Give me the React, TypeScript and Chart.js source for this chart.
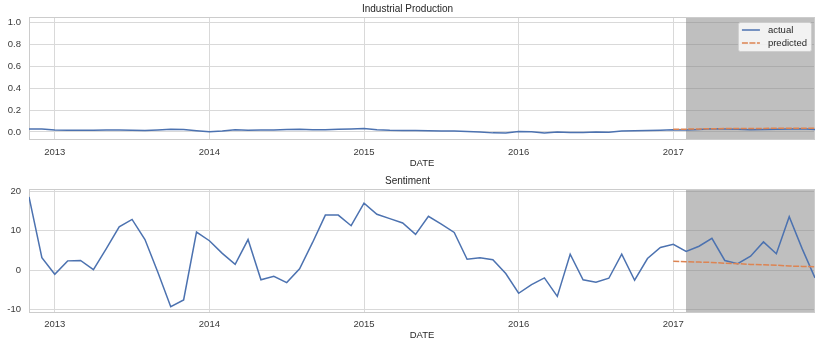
import React, { useEffect, useRef } from "react";
import { Chart, registerables } from "chart.js";

Chart.register(...registerables);

// ---------- data ----------
const DATES = [
  "2012-11", "2012-12",
  "2013-01", "2013-02", "2013-03", "2013-04", "2013-05", "2013-06",
  "2013-07", "2013-08", "2013-09", "2013-10", "2013-11", "2013-12",
  "2014-01", "2014-02", "2014-03", "2014-04", "2014-05", "2014-06",
  "2014-07", "2014-08", "2014-09", "2014-10", "2014-11", "2014-12",
  "2015-01", "2015-02", "2015-03", "2015-04", "2015-05", "2015-06",
  "2015-07", "2015-08", "2015-09", "2015-10", "2015-11", "2015-12",
  "2016-01", "2016-02", "2016-03", "2016-04", "2016-05", "2016-06",
  "2016-07", "2016-08", "2016-09", "2016-10", "2016-11", "2016-12",
  "2017-01", "2017-02", "2017-03", "2017-04", "2017-05", "2017-06",
  "2017-07", "2017-08", "2017-09", "2017-10", "2017-11", "2017-12",
];

const IP_ACTUAL = [
  0.027, 0.027,
  0.018, 0.017, 0.016, 0.016, 0.019, 0.018, 0.016, 0.013, 0.019, 0.025, 0.022, 0.012,
  0.003, 0.010, 0.020, 0.017, 0.018, 0.019, 0.023, 0.024, 0.021, 0.021, 0.026, 0.028,
  0.032, 0.020, 0.015, 0.013, 0.013, 0.012, 0.008, 0.010, 0.005, 0.000, -0.008, -0.009,
  0.004, 0.003, -0.010, 0.000, -0.004, -0.005, 0.000, -0.002, 0.008, 0.012, 0.013, 0.016,
  0.020, 0.019, 0.022, 0.030, 0.027, 0.026, 0.021, 0.023, 0.024, 0.027, 0.030, 0.023,
];

const SENT_ACTUAL = [
  18.6, 3.2,
  -1.0, 2.4, 2.5, 0.2, 5.5, 11.0, 12.9, 7.8, -0.5, -9.2, -7.5, 9.7,
  7.5, 4.3, 1.5, 7.8, -2.4, -1.5, -3.1, 0.4, 7.0, 14.0, 14.0, 11.3,
  17.0, 14.2, 13.1, 12.0, 9.1, 13.7, 11.7, 9.6, 2.8, 3.2, 2.7, -0.8,
  -5.8, -3.6, -1.9, -6.6, 4.1, -2.4, -3.0, -2.0, 4.1, -2.5, 3.0, 5.8,
  6.6, 4.8, 6.1, 8.1, 2.5, 1.7, 3.6, 7.2, 4.2, 13.6, 5.5, -1.9,
];

const PRED_DATES = [
  "2017-01", "2017-02", "2017-03", "2017-04", "2017-05", "2017-06",
  "2017-07", "2017-08", "2017-09", "2017-10", "2017-11", "2017-12",
];
const IP_PRED = [0.024, 0.026, 0.028, 0.030, 0.031, 0.032, 0.033, 0.033, 0.034, 0.034, 0.035, 0.035];
const SENT_PRED = [2.3, 2.2, 2.1, 2.0, 1.8, 1.7, 1.5, 1.4, 1.3, 1.1, 1.0, 0.9];

const YEAR_TICKS = ["2013", "2014", "2015", "2016", "2017"];
const IP_Y_TICKS = [0.0, 0.2, 0.4, 0.6, 0.8, 1.0];
const SENT_Y_TICKS = [-10, 0, 10, 20];

const X_START = "2012-11";
const X_END = "2017-12";
const SHADE_START = "2017-02";

const TITLES = ["Industrial Production", "Sentiment"];
const SERIES_LABELS = ["actual", "predicted"];
const X_TITLE = "DATE";

// ---------- helpers ----------
const monthIndex = (d: string) => {
  const [y, m] = d.split("-").map(Number);
  return (y - 2013) * 12 + (m - 1);
};

const BLUE = "#4c72b0";
const ORANGE = "#dd8452";
const GRID = "#d9d9d9";
const FRAME = "#cccccc";
const TEXT = "#3a3a3a";
const FONT = "'Liberation Sans', Arial, sans-serif";

const shadePlugin = {
  id: "shade",
  beforeDatasetsDraw(chart: any) {
    const { ctx, chartArea, scales } = chart;
    const x0 = Math.round(scales.x.getPixelForValue(monthIndex(SHADE_START)));
    ctx.save();
    ctx.fillStyle = "rgba(128,128,128,0.5)";
    ctx.fillRect(x0, chartArea.top, chartArea.right - x0, chartArea.bottom - chartArea.top);
    ctx.strokeStyle = FRAME;
    ctx.lineWidth = 1;
    ctx.strokeRect(
      chartArea.left + 0.5,
      chartArea.top + 0.5,
      chartArea.right - chartArea.left - 1,
      chartArea.bottom - chartArea.top - 1
    );
    ctx.restore();
  },
};

const legendPlugin = {
  id: "insideLegend",
  afterDatasetsDraw(chart: any, _args: any, opts: any) {
    if (!opts || !opts.show) return;
    const { ctx, chartArea } = chart;
    const sets = chart.data.datasets;
    ctx.save();
    ctx.font = `9.5px ${FONT}`;
    let tw = 0;
    sets.forEach((d: any) => (tw = Math.max(tw, ctx.measureText(d.label).width)));
    const padL = 4, sample = 18, gap = 8, padR = 4, rowH = 13, padT = 1;
    const w = padL + sample + gap + tw + padR;
    const h = padT * 2 + rowH * sets.length + 1;
    const x = chartArea.right - 4 - w;
    const y = chartArea.top + 5;
    ctx.beginPath();
    (ctx as any).roundRect(x + 0.5, y + 0.5, w, h, 2);
    ctx.fillStyle = "rgba(255,255,255,0.8)";
    ctx.fill();
    ctx.strokeStyle = "rgba(204,204,204,0.8)";
    ctx.lineWidth = 1;
    ctx.stroke();
    sets.forEach((d: any, i: number) => {
      const cy = y + padT + 7 + i * rowH;
      ctx.beginPath();
      ctx.setLineDash(d.borderDash || []);
      ctx.strokeStyle = d.borderColor;
      ctx.lineWidth = d.borderWidth;
      ctx.moveTo(x + padL, cy);
      ctx.lineTo(x + padL + sample, cy);
      ctx.stroke();
      ctx.setLineDash([]);
      ctx.fillStyle = "#262626";
      ctx.textBaseline = "middle";
      ctx.textAlign = "left";
      ctx.fillText(d.label, x + padL + sample + gap, cy);
    });
    ctx.restore();
  },
};

type Cfg = {
  title: string;
  actual: number[];
  pred: number[];
  yMin: number;
  yMax: number;
  yTicks: number[];
  yFmt: (v: number) => string;
  xAxisH: number;
  tickPad: number;
  xTitlePadB: number;
  legend: boolean;
};

function makeChart(canvas: HTMLCanvasElement, c: Cfg) {
  return new Chart(canvas, {
    type: "line",
    data: {
      datasets: [
        {
          label: SERIES_LABELS[0],
          data: DATES.map((d, i) => ({ x: monthIndex(d), y: c.actual[i] })),
          borderColor: BLUE,
          borderWidth: 1.5,
          pointRadius: 0,
          tension: 0,
          order: 1,
        },
        {
          label: SERIES_LABELS[1],
          data: PRED_DATES.map((d, i) => ({ x: monthIndex(d), y: c.pred[i] })),
          borderColor: ORANGE,
          borderWidth: 1.5,
          borderDash: [6, 1.5],
          pointRadius: 0,
          tension: 0,
          order: 0,
        },
      ],
    },
    options: {
      responsive: false,
      animation: false,
      events: [],
      layout: { padding: { left: 0, right: 6, top: 0, bottom: 0 } },
      plugins: {
        legend: { display: false },
        tooltip: { enabled: false },
        title: {
          display: true,
          text: c.title,
          color: "#262626",
          font: { family: FONT, size: 10, weight: "normal", lineHeight: 1.2 },
          padding: { top: 3, bottom: 2 },
        },
        insideLegend: { show: c.legend },
      } as any,
      scales: {
        x: {
          type: "linear",
          min: monthIndex(X_START),
          max: monthIndex(X_END),
          afterBuildTicks: (s: any) => {
            s.ticks = YEAR_TICKS.map((y) => ({ value: monthIndex(y + "-01") }));
          },
          afterFit: (s: any) => {
            s.height = c.xAxisH;
          },
          ticks: {
            color: TEXT,
            font: { family: FONT, size: 9.5, lineHeight: 1.2 },
            padding: c.tickPad,
            maxRotation: 0,
            autoSkip: false,
            callback: (v: any) => {
              const i = YEAR_TICKS.findIndex((y) => monthIndex(y + "-01") === v);
              return i >= 0 ? YEAR_TICKS[i] : "";
            },
          },
          grid: { color: GRID, lineWidth: 1, drawTicks: false },
          border: { display: false },
          title: {
            display: true,
            text: X_TITLE,
            color: "#262626",
            font: { family: FONT, size: 9.5, lineHeight: 1.2 },
            padding: { top: 0, bottom: c.xTitlePadB },
          },
        },
        y: {
          type: "linear",
          min: c.yMin,
          max: c.yMax,
          afterBuildTicks: (s: any) => {
            s.ticks = c.yTicks.map((v) => ({ value: v }));
          },
          afterFit: (s: any) => {
            s.width = 29;
          },
          ticks: {
            color: TEXT,
            font: { family: FONT, size: 9.5, lineHeight: 1.2 },
            padding: 8,
            callback: (v: any) => c.yFmt(Number(v)),
          },
          grid: { color: GRID, lineWidth: 1, drawTicks: false },
          border: { display: false },
        },
      },
    },
    plugins: [shadePlugin, legendPlugin],
  } as any);
}

export default function App() {
  const topRef = useRef<HTMLCanvasElement>(null);
  const botRef = useRef<HTMLCanvasElement>(null);

  useEffect(() => {
    const top = makeChart(topRef.current!, {
      title: TITLES[0],
      actual: IP_ACTUAL,
      pred: IP_PRED,
      yMin: -0.073,
      yMax: 1.049,
      yTicks: IP_Y_TICKS,
      yFmt: (v) => v.toFixed(1),
      xAxisH: 32,
      tickPad: 6.3,
      xTitlePadB: 3,
      legend: true,
    });
    const bot = makeChart(botRef.current!, {
      title: TITLES[1],
      actual: SENT_ACTUAL,
      pred: SENT_PRED,
      yMin: -10.8,
      yMax: 20.6,
      yTicks: SENT_Y_TICKS,
      yFmt: (v) => String(Math.round(v)),
      xAxisH: 32,
      tickPad: 5.4,
      xTitlePadB: 4.4,
      legend: false,
    });
    return () => {
      top.destroy();
      bot.destroy();
    };
  }, []);

  return (
    <div style={{ position: "absolute", left: 0, top: 0, width: 821, height: 345, background: "#fff" }}>
      <canvas ref={topRef} width={821} height={172} style={{ position: "absolute", left: 0, top: 0 }} />
      <canvas ref={botRef} width={821} height={173} style={{ position: "absolute", left: 0, top: 172 }} />
    </div>
  );
}
